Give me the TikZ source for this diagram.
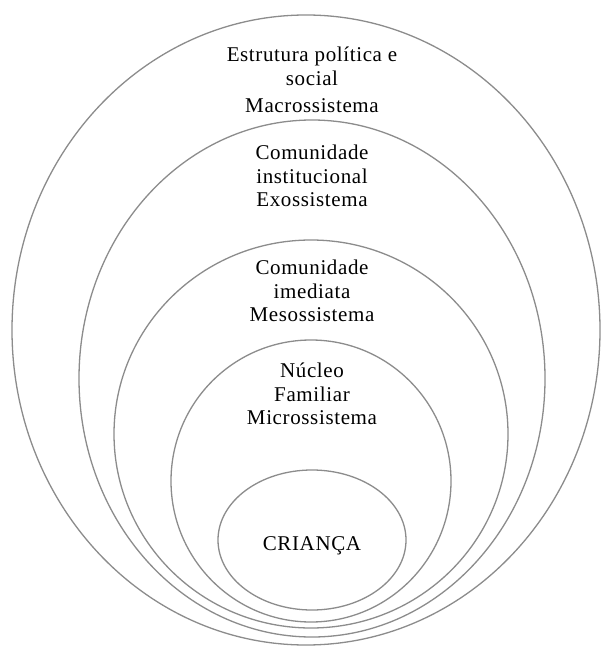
\documentclass[tikz,border=0pt]{standalone}
\usepackage{fontspec}
\setmainfont{Liberation Serif}[LetterSpace=3]
\begin{document}
\begin{tikzpicture}[x=1pt,y=-1pt,
  ring/.style={draw={rgb,255:red,140;green,140;blue,140}, line width=1.3pt, fill=white},
  lbl/.style={align=center, inner sep=0pt, font=\fontsize{21}{23.5}\selectfont}]
  \useasboundingbox (0,0) rectangle (603,650);

  % nested systems, all resting near the same bottom point
  \draw[ring] (306,330)   ellipse [x radius=294, y radius=315];
  \draw[ring] (312,378.5) ellipse [x radius=233, y radius=258.5];
  \draw[ring] (311,434)   ellipse [x radius=197, y radius=194];
  \draw[ring] (311,481)   ellipse [x radius=140, y radius=141];
  \draw[ring] (312,540)   ellipse [x radius=94,  y radius=70];

  % labels
  \node[lbl] (macro) at (312,80)  {Estrutura política e\\ social\\[4pt] Macrossistema};
  \node[lbl] (exo)   at (312,176) {Comunidade\\ institucional\\ Exossistema};
  \node[lbl] (meso)  at (312,291) {Comunidade\\ imediata\\ Mesossistema};
  \node[lbl] (micro) at (312,394) {Núcleo\\ Familiar\\ Microssistema};
  \node[lbl] (child) at (312,546) {CRIANÇA};
\end{tikzpicture}
\end{document}
